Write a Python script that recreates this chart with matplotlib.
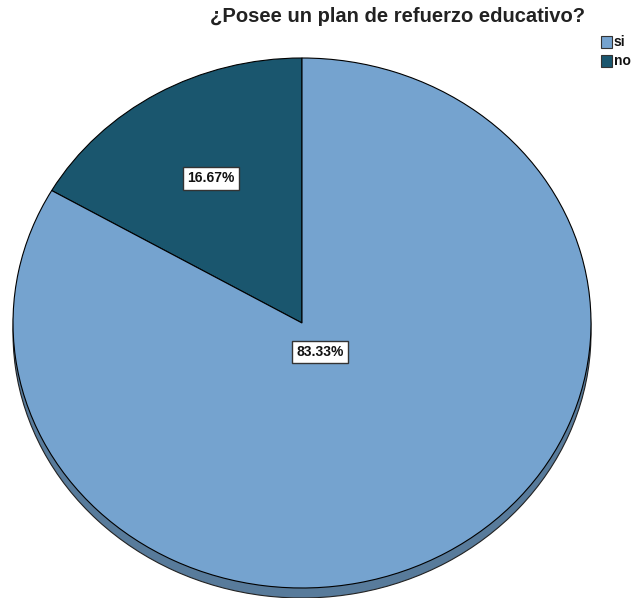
import matplotlib
matplotlib.use("Agg")
import matplotlib.pyplot as plt
import numpy as np
from matplotlib.patches import Rectangle

title = "¿Posee un plan de refuerzo educativo?"
categories = ["si", "no"]
values = [83.33, 16.67]
colors = {"si": "#75a3cf", "no": "#1a566e"}
shadow_color = "#587b9b"

W, H = 637, 598
fig = plt.figure(figsize=(W / 100, H / 100), dpi=100)
fig.patch.set_facecolor("white")

# pie ellipse: x 13..591, y 58..588 (pixels, top-origin), 3D depth 10px
cx, cy, rx, ry = 302, 323, 289, 265
depth_px = 10
depth = depth_px / ry
ax = fig.add_axes([(cx - rx) / W, (H - (cy + ry) - depth_px) / H,
                   2 * rx / W, (2 * ry + depth_px) / H])

order = ["no", "si"]
vals = [values[categories.index(c)] for c in order]
cols = [colors[c] for c in order]

ax.pie(vals, colors=[shadow_color] * 2, startangle=90, counterclock=True,
       radius=1, center=(0, -depth), frame=False,
       wedgeprops=dict(edgecolor="#222222", linewidth=0.8))
ax.pie(vals, colors=cols, startangle=90, counterclock=True,
       radius=1, center=(0, 0), frame=False,
       wedgeprops=dict(edgecolor="black", linewidth=0.8))
ax.set_xlim(-1, 1)
ax.set_ylim(-1 - depth, 1)
ax.set_aspect("auto")
ax.axis("off")

# labels
dist = {"no": 0.63, "si": 0.125}
start = 90.0
tot = sum(vals)
for c, v in zip(order, vals):
    ang = start + 360 * v / tot / 2
    start += 360 * v / tot
    r = dist[c]
    x, y = r * np.cos(np.radians(ang)), r * np.sin(np.radians(ang))
    ax.text(x, y, f"{v:.2f}%", ha="center", va="center", fontsize=10,
            fontweight="bold", family="Liberation Sans", color="#111111",
            bbox=dict(boxstyle="square,pad=0.3", facecolor="white",
                      edgecolor="#333333", linewidth=1.0))

# title
fig.text(398 / W, 1 - 17 / H, title, ha="center", va="center", fontsize=14.5,
         fontweight="bold", family="Liberation Sans", color="#222222")

# legend
for i, c in enumerate(categories):
    ytop = 36 + i * 19
    fig.patches.append(Rectangle((601 / W, 1 - (ytop + 12) / H), 11 / W, 12 / H,
                                 transform=fig.transFigure, facecolor=colors[c],
                                 edgecolor="#333333", linewidth=0.8))
    fig.text(614 / W, 1 - (ytop + 6) / H, c, ha="left", va="center", fontsize=10,
             fontweight="bold", family="Liberation Sans", color="#111111")

fig.savefig("out.png", dpi=100, facecolor="white")
